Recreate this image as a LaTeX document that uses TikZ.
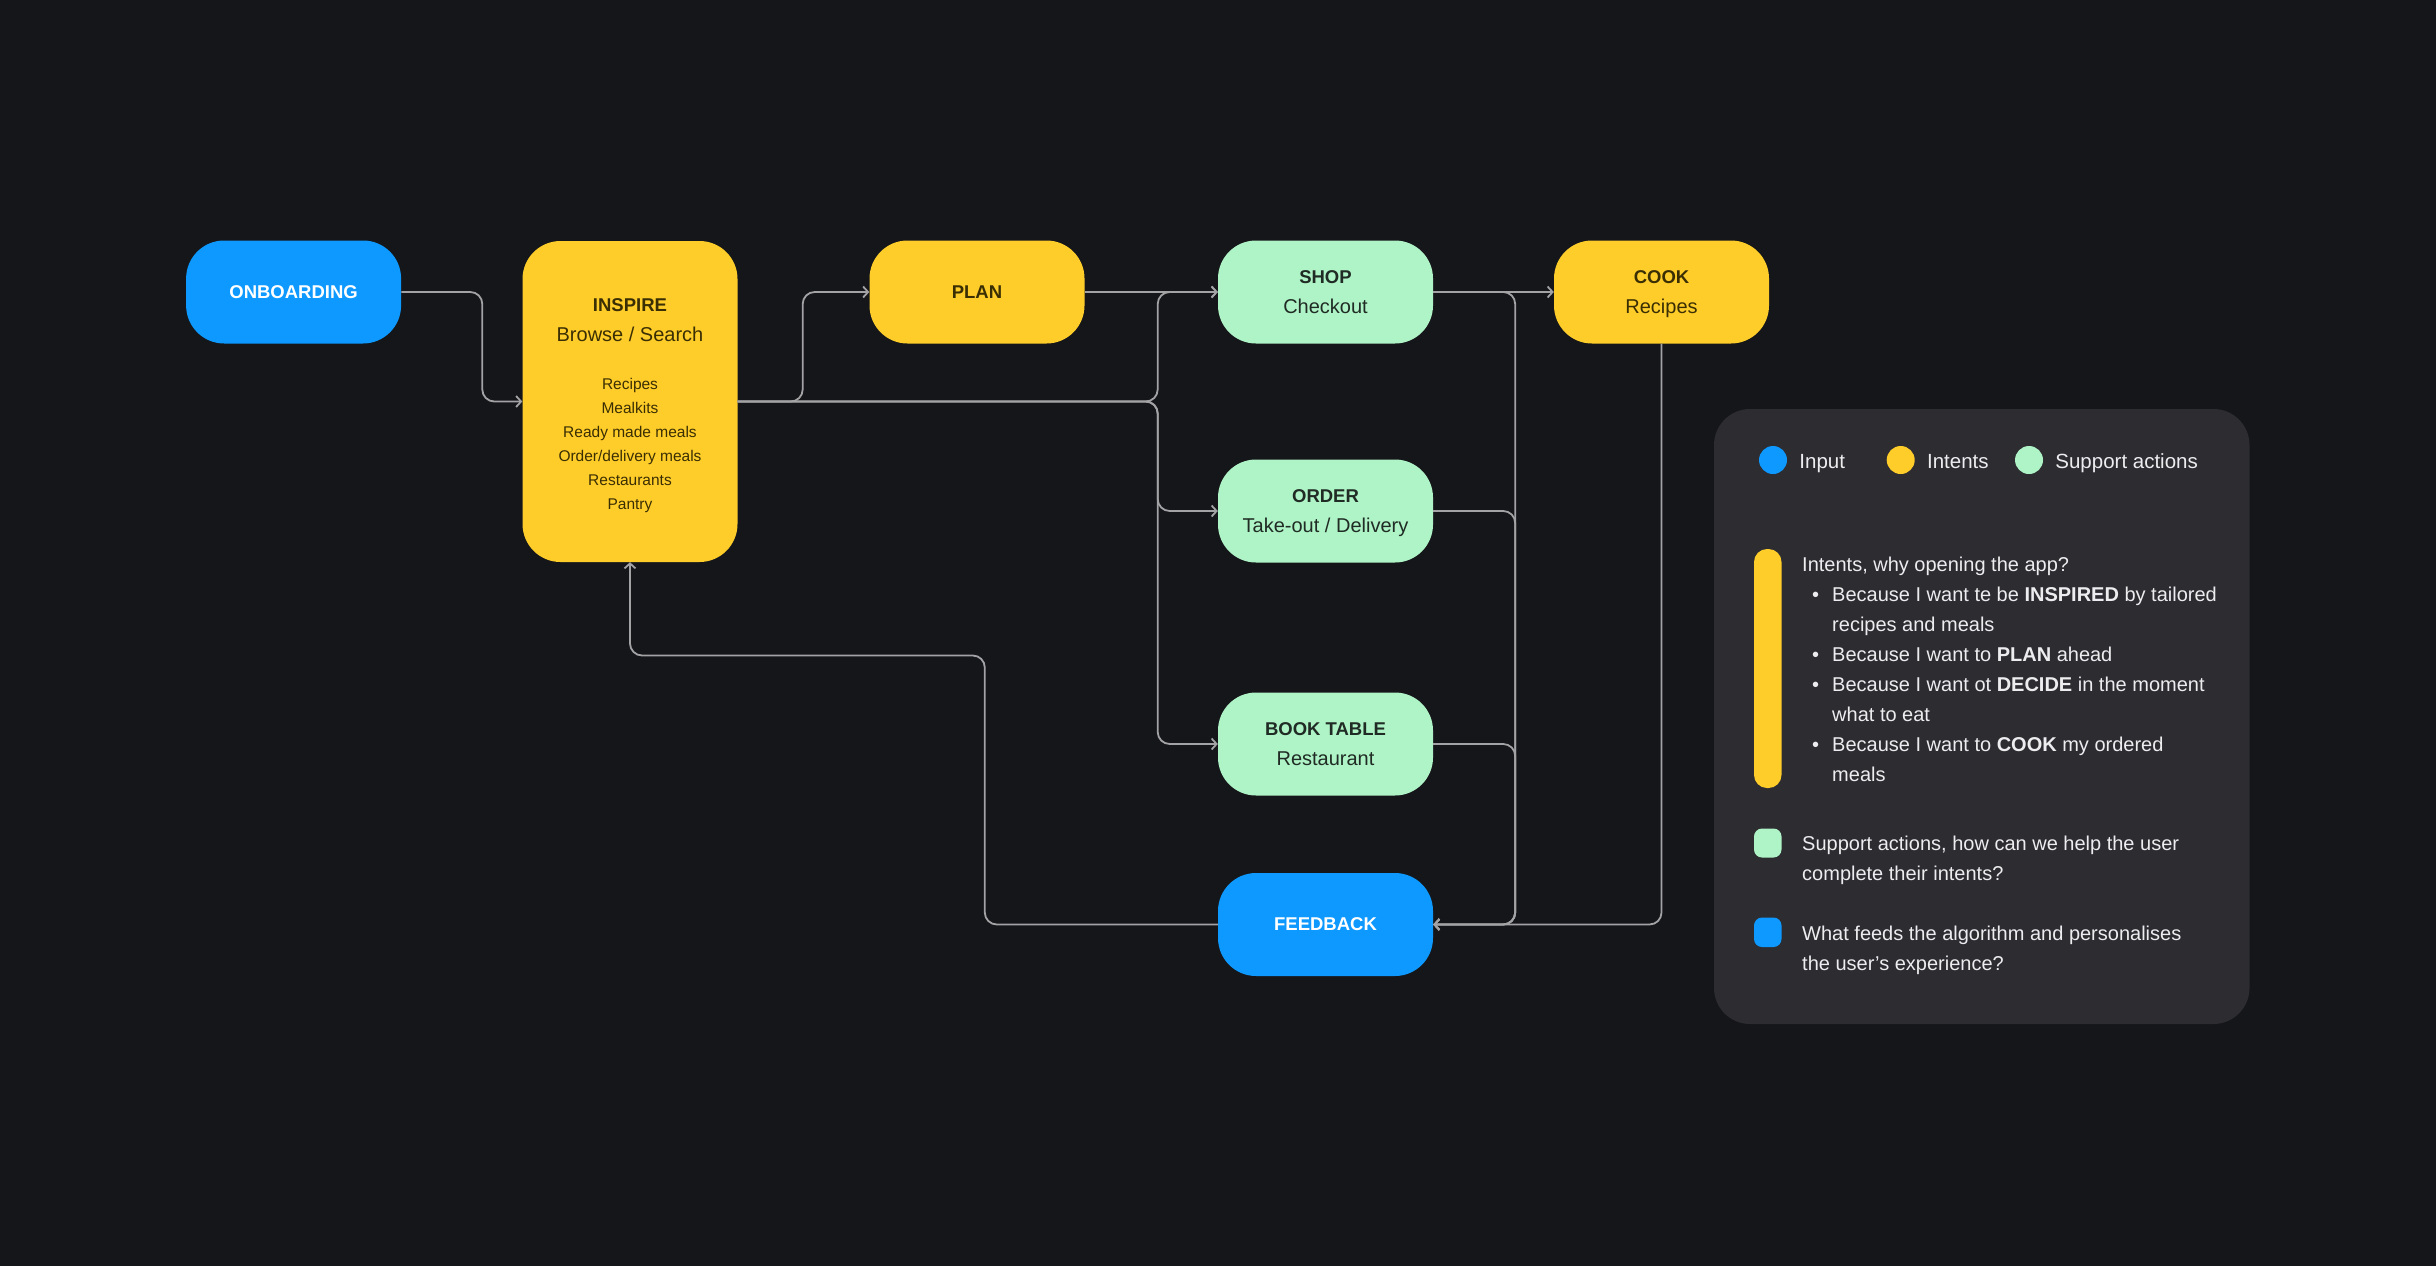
\documentclass[tikz,border=0pt]{standalone}
\usepackage{fontspec}
\setmainfont{Liberation Sans}
\usetikzlibrary{arrows.meta}
\definecolor{bgdark}{HTML}{15161A}
\definecolor{paneldark}{HTML}{2C2C31}
\definecolor{inputblue}{HTML}{0D99FF}
\definecolor{intentyellow}{HTML}{FFCD29}
\definecolor{supportmint}{HTML}{AFF4C6}
\definecolor{linegray}{HTML}{A3A3A6}
\definecolor{intenttxt}{HTML}{3A2E04}
\definecolor{supporttxt}{HTML}{1F2B24}
\definecolor{notetxt}{HTML}{EDEDEF}
\newcommand{\boxtitle}[1]{{\fontsize{18.5}{30}\selectfont\bfseries #1}}
\newcommand{\boxsub}[1]{\raisebox{0pt}[\height][0pt]{#1}}
\newcommand{\bul}{\hspace*{10pt}\makebox[20pt][l]{\textbullet}}
\newcommand{\cont}{\hspace*{30pt}}

\begin{document}
\begin{tikzpicture}[x=1pt,y=-1pt,
  stage/.style={rounded corners=38pt,minimum width=215pt,minimum height=103pt,inner sep=0pt,align=center,font=\fontsize{20}{30}\selectfont},
  input/.style={stage,fill=inputblue,text=white},
  intent/.style={stage,fill=intentyellow,text=intenttxt},
  support/.style={stage,fill=supportmint,text=supporttxt},
  flow/.style={draw=linegray,line width=1.8pt,rounded corners=12pt,-{Straight Barb[length=5pt,width=11pt]}},
  dot/.style={circle,minimum size=28pt,inner sep=0pt},
  key/.style={anchor=base west,inner sep=0pt,text=notetxt,font=\fontsize{20.5}{30}\selectfont},
  note/.style={anchor=north west,align=left,inner sep=0pt,text=notetxt,font=\fontsize{20}{30}\selectfont}]
\useasboundingbox (0,0) rectangle (2436,1266);
\fill[bgdark] (0,0) rectangle (2436,1266);

\node[input] (onboarding) at (293.6,292) {\boxtitle{ONBOARDING}};
\node[intent,minimum height=321pt] (inspire) at (630,401.5) {};
\node[text=intenttxt,align=center,inner sep=0pt,font=\fontsize{20}{30}\selectfont] (inspirehead) at ([yshift=-79pt]inspire.north) {\boxtitle{INSPIRE}\\Browse / Search};
\node[text=intenttxt,align=center,inner sep=0pt,font=\fontsize{15.5}{24}\selectfont] (inspirelist) at ([yshift=-204.6pt]inspire.north) {Recipes\\Mealkits\\Ready made meals\\Order/delivery meals\\Restaurants\\Pantry};
\node[intent] (plan) at (977,292) {\boxtitle{PLAN}};
\node[support] (shop) at (1325.5,292) {\boxtitle{SHOP}\\\boxsub{Checkout}};
\node[intent] (cook) at (1661.5,292) {\boxtitle{COOK}\\\boxsub{Recipes}};
\node[support] (order) at (1325.5,511) {\boxtitle{ORDER}\\\boxsub{Take-out / Delivery}};
\node[support] (book) at (1325.5,744) {\boxtitle{BOOK TABLE}\\\boxsub{Restaurant}};
\node[input] (feedback) at (1325.5,924.5) {\boxtitle{FEEDBACK}};

\draw[flow] (onboarding.east) -- ++(81,0) |- (inspire.west);
\draw[flow] (inspire.east) -- ++(65,0) |- (plan.west);
\draw[flow] (inspire.east) -- ++(420,0) |- (shop.west);
\draw[flow] (inspire.east) -- ++(420,0) |- (order.west);
\draw[flow] (inspire.east) -- ++(420,0) |- (book.west);
\draw[flow] (plan.east) -- (shop.west);
\draw[flow] (shop.east) -- (cook.west);
\draw[flow] (shop.east) -- ++(82,0) |- (feedback.east);
\draw[flow] (order.east) -- ++(82,0) |- (feedback.east);
\draw[flow] (book.east) -- ++(82,0) |- (feedback.east);
\draw[flow] (cook.south) |- (feedback.east);
\draw[flow] (feedback.west) -- ++(-233,0) -- ++(0,-269) -| (inspire.south);

\fill[paneldark,rounded corners=36pt] (1714,409) rectangle (2249.5,1024);
\node[dot,fill=inputblue] (keyinput) at (1773,460) {};
\node[key] (keyinputtext) at ([xshift=12pt,yshift=-8pt]keyinput.east) {Input};
\node[dot,fill=intentyellow] (keyintent) at (1900.7,460) {};
\node[key] (keyintenttext) at ([xshift=12pt,yshift=-8pt]keyintent.east) {Intents};
\node[dot,fill=supportmint] (keysupport) at (2029,460) {};
\node[key] (keysupporttext) at ([xshift=12pt,yshift=-8pt]keysupport.east) {Support actions};

\fill[intentyellow,rounded corners=13pt] (1754,549) rectangle (1781.5,788);
\node[note] (intentsnote) at (1802,556.5) {Intents, why opening the app?\\
  \bul Because I want te be \textbf{INSPIRED} by tailored\\
  \cont recipes and meals\\
  \bul Because I want to \textbf{PLAN} ahead\\
  \bul Because I want ot \textbf{DECIDE} in the moment\\
  \cont what to eat\\
  \bul Because I want to \textbf{COOK} my ordered\\
  \cont meals};
\fill[supportmint,rounded corners=8pt] (1754,828.5) rectangle (1781.5,857.5);
\node[note] (supportnote) at (1802,836) {Support actions, how can we help the user\\complete their intents?};
\fill[inputblue,rounded corners=8pt] (1754,917.5) rectangle (1781.5,947);
\node[note] (inputnote) at (1802,925.5) {What feeds the algorithm and personalises\\the user’s experience?};
\end{tikzpicture}
\end{document}
